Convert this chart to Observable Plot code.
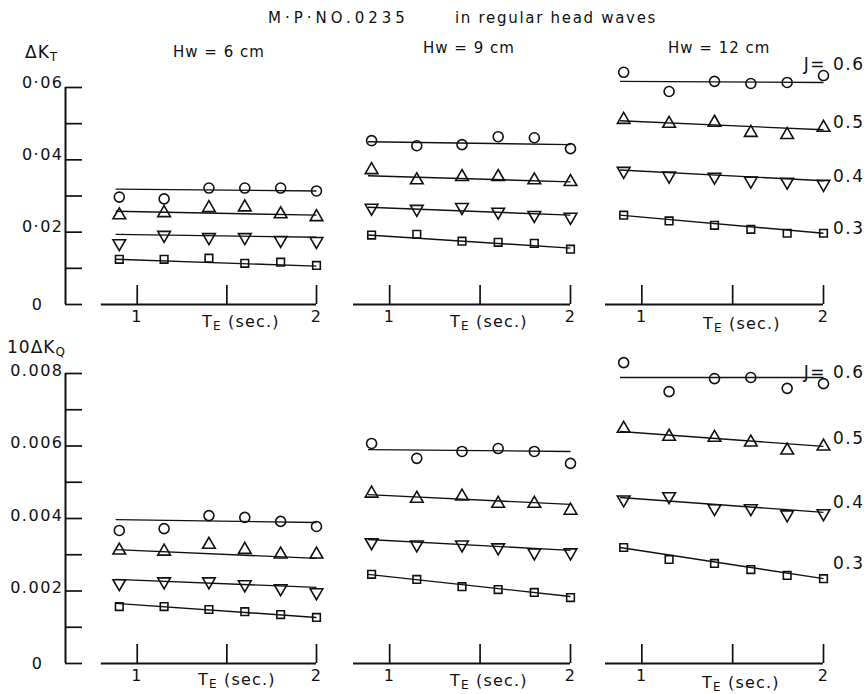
<!DOCTYPE html>
<html><head><meta charset="utf-8">
<script src="https://cdn.jsdelivr.net/npm/d3@7"></script>
<script src="https://cdn.jsdelivr.net/npm/@observablehq/plot@0.6"></script>
<style>
body{margin:0;background:#fff;}
#wrap{position:relative;width:868px;height:694px;background:#fff;font-family:"DejaVu Sans",sans-serif;color:#111;overflow:hidden;}
.lbl{position:absolute;white-space:nowrap;font-size:15px;letter-spacing:1px;line-height:1;transform:translateY(-50%);}
.lbl sub{font-size:12px;vertical-align:-3px;line-height:0;}
.pan{position:absolute;}
</style></head><body><div id="wrap"></div>
<script>
// ---- data ----
const T_E = [0.9, 1.15, 1.4, 1.6, 1.8, 2.0];           // T_E (sec.)
const J = [0.6, 0.5, 0.4, 0.3];
const jText = ["J= 0.6", "0.5", "0.4", "0.3"];
const hwTitles = ["Hw = 6 cm", "Hw = 9 cm", "Hw = 12 cm"];
const fitT = [0.88, 2.0];                               // extent of fitted lines

// ΔK_T — rows: J = 0.6, 0.5, 0.4, 0.3
const dKT_hw6 = [
  [0.0297, 0.0292, 0.0322, 0.0322, 0.0322, 0.0314],
  [0.0247, 0.0253, 0.0267, 0.0269, 0.0250, 0.0242],
  [0.0169, 0.0192, 0.0186, 0.0186, 0.0178, 0.0175],
  [0.0125, 0.0125, 0.0128, 0.0114, 0.0117, 0.0108]];
const dKT_hw9 = [
  [0.0453, 0.0439, 0.0442, 0.0464, 0.0461, 0.0431],
  [0.0372, 0.0344, 0.0353, 0.0353, 0.0344, 0.0339],
  [0.0267, 0.0264, 0.0269, 0.0256, 0.0247, 0.0242],
  [0.0192, 0.0194, 0.0175, 0.0172, 0.0169, 0.0153]];
const dKT_hw12 = [
  [0.0642, 0.0589, 0.0617, 0.0611, 0.0614, 0.0633],
  [0.0511, 0.0500, 0.0503, 0.0475, 0.0469, 0.0489],
  [0.0369, 0.0356, 0.0353, 0.0342, 0.0339, 0.0333],
  [0.0247, 0.0231, 0.0219, 0.0208, 0.0197, 0.0197]];
// fitted lines [start, end]
const fitKT_hw6  = [[0.0319, 0.0314], [0.0258, 0.0247], [0.0194, 0.0186], [0.0125, 0.0106]];
const fitKT_hw9  = [[0.0450, 0.0442], [0.0356, 0.0339], [0.0269, 0.0247], [0.0192, 0.0156]];
const fitKT_hw12 = [[0.0617, 0.0614], [0.0508, 0.0483], [0.0372, 0.0342], [0.0247, 0.0197]];

// 10ΔK_Q — rows: J = 0.6, 0.5, 0.4, 0.3
const dKQ_hw6 = [
  [0.00367, 0.00372, 0.00408, 0.00403, 0.00392, 0.00378],
  [0.00312, 0.00309, 0.00328, 0.00314, 0.00301, 0.00301],
  [0.00221, 0.00226, 0.00226, 0.00218, 0.00207, 0.00196],
  [0.00157, 0.00157, 0.00149, 0.00143, 0.00135, 0.00127]];
const dKQ_hw9 = [
  [0.00607, 0.00566, 0.00585, 0.00593, 0.00585, 0.00552],
  [0.00469, 0.00455, 0.00461, 0.00441, 0.00441, 0.00422],
  [0.00334, 0.00328, 0.00328, 0.00320, 0.00306, 0.00306],
  [0.00246, 0.00232, 0.00212, 0.00204, 0.00196, 0.00182]];
const dKQ_hw12 = [
  [0.00830, 0.00750, 0.00786, 0.00789, 0.00759, 0.00772],
  [0.00648, 0.00626, 0.00623, 0.00610, 0.00588, 0.00599],
  [0.00452, 0.00461, 0.00428, 0.00428, 0.00411, 0.00414],
  [0.00320, 0.00287, 0.00276, 0.00259, 0.00243, 0.00234]];
const fitKQ_hw6  = [[0.00397, 0.00389], [0.00314, 0.00290], [0.00232, 0.00210], [0.00166, 0.00127]];
const fitKQ_hw9  = [[0.00590, 0.00585], [0.00466, 0.00439], [0.00342, 0.00312], [0.00246, 0.00185]];
const fitKQ_hw12 = [[0.00789, 0.00789], [0.00640, 0.00599], [0.00458, 0.00417], [0.00320, 0.00234]];

// axes
const ktTicks = [0, 0.01, 0.02, 0.03, 0.04, 0.05, 0.06];
const ktTickLabels = [0.02, 0.04, 0.06];
const kqTicks = [0, 0.001, 0.002, 0.003, 0.004, 0.005, 0.006, 0.007, 0.008];
const kqTickLabels = [0.002, 0.004, 0.006, 0.008];
const xTicks = [1, 1.5, 2];
const xTickLabels = [1, 2];
const jLabelKT = [0.0664, 0.0503, 0.0353, 0.0211];
const jLabelKQ = [0.00803, 0.00621, 0.00444, 0.00276];

// ---- drawing ----
const ink = "#111";
const invTri = {draw(ctx, size) {
  const s3 = Math.sqrt(3), y = Math.sqrt(size / (3 * s3));
  ctx.moveTo(0, 2 * y); ctx.lineTo(-s3 * y, -y); ctx.lineTo(s3 * y, -y); ctx.closePath();
}};
const symbols = ["circle", "triangle", invTri, "square"];
const radii = [5, 4.7, 4.7, 4.3];
const wrap = document.getElementById("wrap");

function panel(o) {
  const fw = o.width - o.ml - o.mr, fh = o.height - o.mt - o.mb;
  const marks = [];
  if (o.yAxis) {
    marks.push(Plot.ruleX([o.xDomain[0]], {stroke: ink, strokeWidth: 2}));
    marks.push(Plot.tickY(o.yTicks, {stroke: ink, strokeWidth: 1.7, insetRight: fw - 17}));
    marks.push(Plot.axisY(o.yLabels, {tickSize: 0, tickPadding: 2, dy: o.labelDy, tickFormat: o.fmt, label: null, fill: ink}));
    marks.push(Plot.axisY([0], {tickSize: 0, tickPadding: 22, tickFormat: () => "0", label: null, fill: ink}));
  }
  marks.push(Plot.ruleY([0], {x1: 0.8, x2: 2.0, stroke: ink, strokeWidth: 1.9}));
  marks.push(Plot.tickX(xTicks, {stroke: ink, strokeWidth: 1.7, insetTop: fh - 19}));
  marks.push(Plot.axisX(xTickLabels, {tickSize: 0, tickPadding: 6, label: null, tickFormat: d => String(d), fill: ink}));
  const links = o.fits.map((f, i) => ({x1: fitT[0], x2: fitT[1], y1: f[0], y2: f[1], j: J[i]}));
  marks.push(Plot.link(links, {x1: "x1", y1: "y1", x2: "x2", y2: "y2", stroke: ink, strokeWidth: 1.4}));
  o.values.forEach((vals, i) => {
    const rows = vals.map((v, k) => ({t: T_E[k], v}));
    marks.push(Plot.dot(rows, {x: "t", y: "v", symbol: symbols[i], r: radii[i], stroke: ink, fill: "none", strokeWidth: 1.6}));
  });
  if (o.jLabels) {
    const rows = o.jLabels.map((y, i) => ({t: T_E[T_E.length - 1], y, s: jText[i]}));
    marks.push(Plot.text(rows, {x: "t", y: "y", text: "s", dx: 41, textAnchor: "end", fontSize: 17, fill: ink}));
  }
  const svg = Plot.plot({
    width: o.width, height: o.height,
    marginLeft: o.ml, marginRight: o.mr, marginTop: o.mt, marginBottom: o.mb,
    x: {domain: o.xDomain, label: null},
    y: {domain: o.yDomain, label: null, axis: o.yAxis ? undefined : null},
    style: {fontFamily: "DejaVu Sans, sans-serif", fontSize: "16px", letterSpacing: "1.5px", background: "transparent", color: ink, overflow: "visible"},
    marks
  });
  svg.classList.add("pan");
  svg.style.left = o.left + "px";
  svg.style.top = o.top + "px";
  wrap.appendChild(svg);
}

const cols = [
  {left: 0, width: 340, ml: 65, mr: 24, xDomain: [0.6, 2.0], yAxis: true},
  {left: 340, width: 250, ml: 13, mr: 20, xDomain: [0.8, 2.0], yAxis: false},
  {left: 590, width: 278, ml: 15, mr: 45, xDomain: [0.8, 2.0], yAxis: false}
];
const topVals = [dKT_hw6, dKT_hw9, dKT_hw12], topFits = [fitKT_hw6, fitKT_hw9, fitKT_hw12];
const botVals = [dKQ_hw6, dKQ_hw9, dKQ_hw12], botFits = [fitKQ_hw6, fitKQ_hw9, fitKQ_hw12];
const fmtKT = d => d.toFixed(2).replace(".", "·");
const fmtKQ = d => d.toFixed(3);

cols.forEach((c, i) => {
  panel({...c, top: 40, height: 300, mt: 47, mb: 36, yDomain: [0, 0.06],
    values: topVals[i], fits: topFits[i], yTicks: ktTicks, yLabels: ktTickLabels, fmt: fmtKT, labelDy: -5,
    jLabels: i === 2 ? jLabelKT : null});
  panel({...c, top: 340, height: 354, mt: 33, mb: 31, yDomain: [0, 0.008],
    values: botVals[i], fits: botFits[i], yTicks: kqTicks, yLabels: kqTickLabels, fmt: fmtKQ, labelDy: -3,
    jLabels: i === 2 ? jLabelKQ : null});
});

// ---- text labels ----
function label(html, x, y, extra) {
  const d = document.createElement("div");
  d.className = "lbl";
  d.innerHTML = html;
  d.style.left = x + "px";
  d.style.top = y + "px";
  if (extra) Object.assign(d.style, extra);
  wrap.appendChild(d);
}
label("M·P·NO.0235", 268, 18, {letterSpacing: "4px"});
label("in regular head waves", 455, 18, {letterSpacing: "1.7px"});
label(hwTitles[0], 173, 52);
label(hwTitles[1], 423, 48);
label(hwTitles[2], 668, 48);
label("ΔK<sub>T</sub>", 25, 52, {fontSize: "17px"});
label("10ΔK<sub>Q</sub>", 7, 347, {fontSize: "17px"});
const teTop = [[202, 322], [450, 322], [703, 324]];
const teBot = [[198, 680], [450, 681], [702, 683]];
teTop.concat(teBot).forEach(([x, y]) => label("T<sub>E</sub> (sec.)", x, y, {fontSize: "16px", letterSpacing: "1.2px"}));
</script>
</body></html>
